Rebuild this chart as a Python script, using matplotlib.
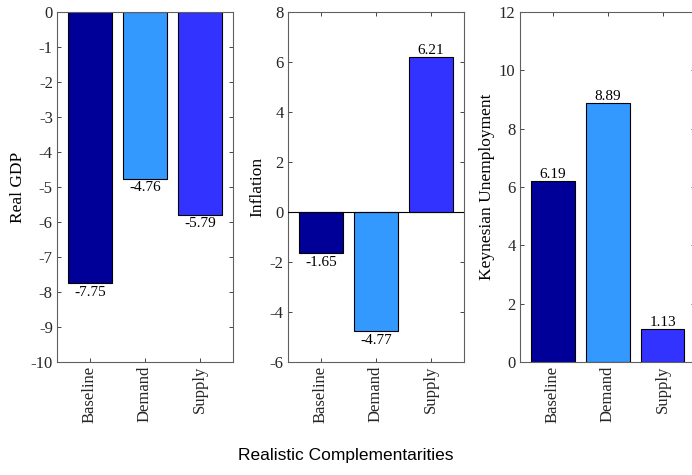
import matplotlib
matplotlib.use("Agg")
import matplotlib.pyplot as plt
import numpy as np

scenarios = ["Baseline", "Demand", "Supply"]
colors = ["#000099", "#3399ff", "#3333ff"]

gdp = [-7.75, -4.76, -5.79]
inflation = [-1.65, -4.77, 6.21]
unemployment = [6.19, 8.89, 1.13]

panels = [
    ("Real GDP", gdp, (-10, 0), np.arange(-10, 1, 1)),
    ("Inflation", inflation, (-6, 8), np.arange(-6, 9, 2)),
    ("Keynesian Unemployment", unemployment, (0, 12), np.arange(0, 13, 2)),
]
lefts = [0.0824, 0.416, 0.751]

plt.rcParams['font.family'] = ['Liberation Serif', 'DejaVu Serif']

fig = plt.figure(figsize=(6.92, 4.75), dpi=100)
x = np.arange(1, 4)
for (ylabel, vals, ylim, yticks), left in zip(panels, lefts):
    ax = fig.add_axes([left, 0.238, 0.254, 0.737])
    ax.bar(x, vals, width=0.8, color=colors, edgecolor="black", linewidth=0.8, zorder=2)
    for xi, v in zip(x, vals):
        if v < 0:
            ax.annotate(f"{v:.2f}", (xi, v), xytext=(0, -2), textcoords="offset points",
                        ha="center", va="top", fontsize=11)
        else:
            ax.annotate(f"{v:.2f}", (xi, v), xytext=(0, 0), textcoords="offset points",
                        ha="center", va="bottom", fontsize=11)
    if ylim[0] < 0 < ylim[1]:
        ax.axhline(0, color="black", lw=0.8, zorder=3)
    ax.set_xlim(0.4, 3.6)
    ax.set_ylim(*ylim)
    ax.set_yticks(yticks)
    ax.set_yticklabels([f"{t:g}" for t in yticks])
    ax.set_xticks(x)
    ax.set_xticklabels(scenarios, rotation=90)
    ax.set_ylabel(ylabel, fontsize=12.5, labelpad=3)
    ax.tick_params(direction="in", top=True, right=True, labelsize=12,
                   colors="#262626", length=3, width=0.6, pad=3)
    for s in ax.spines.values():
        s.set_color("#606060")
        s.set_linewidth(0.8)

fig.text(0.5, 0.042, "Realistic Complementarities", ha="center", va="center",
         fontsize=12.5, family=["Liberation Sans", "DejaVu Sans"])

fig.savefig("out.png", dpi=100)
